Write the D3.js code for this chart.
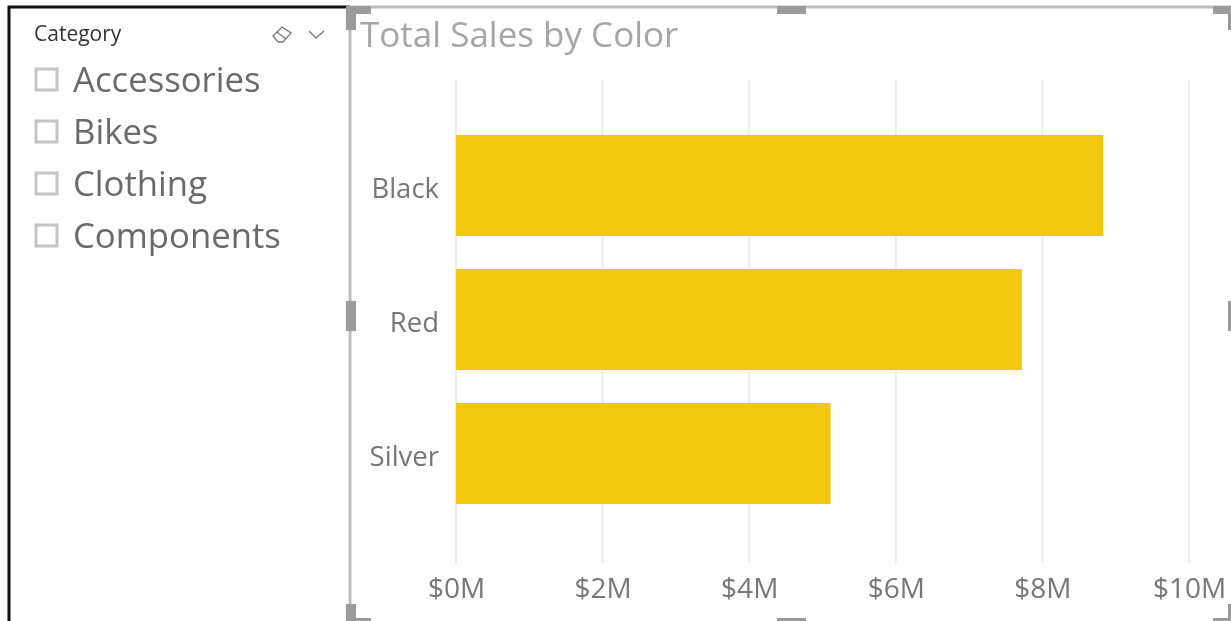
<!DOCTYPE html>
<html>
<head>
<meta charset="utf-8">
<script src="https://cdnjs.cloudflare.com/ajax/libs/d3/7.8.5/d3.min.js"></script>
<style>
  html, body { margin: 0; padding: 0; background: #fff; overflow: hidden; }
  svg { display: block; filter: blur(0.7px); }
  text { font-family: "Open Sans", "Noto Sans", sans-serif; }
  .x-axis path, .y-axis path, .x-axis line, .y-axis line { display: none; }
</style>
</head>
<body>
<div class="chart"></div>
<script>
// -----------------------------------------------------------------------
// Data
// -----------------------------------------------------------------------
const colors = ["Black", "Red", "Silver"];
const sales = [8.83, 7.72, 5.11];
const xTicks = [0, 2, 4, 6, 8, 10];
const slicerItems = ["Accessories", "Bikes", "Clothing", "Components"];
const slicerTitle = "Category";
const chartTitle = "Total Sales by Color";

// -----------------------------------------------------------------------
// Layout
// -----------------------------------------------------------------------
const WIDTH = 1231;
const HEIGHT = 621;
const BAR_COLOR = "#f2c80f";
const HANDLE_COLOR = "#9b9b9b";

const svg = d3.select(".chart").append("svg")
  .attr("width", WIDTH)
  .attr("height", HEIGHT);

const xScale = d3.scaleLinear().domain([0, 10]).range([456, 1189]);
const yScale = d3.scaleBand().domain(colors)
  .range([135, 504])
  .paddingInner(0.2463)
  .paddingOuter(0);

// -----------------------------------------------------------------------
// Slicer panel
// -----------------------------------------------------------------------
svg.append("path")
  .attr("d", `M9,${HEIGHT} V7 H350`)
  .attr("fill", "none")
  .attr("stroke", "#111")
  .attr("stroke-width", 3);

svg.append("text")
  .attr("x", 34)
  .attr("y", 41)
  .attr("font-size", 21)
  .attr("fill", "#333")
  .text(slicerTitle);

// eraser icon and chevron in the slicer header
const icon = svg.append("g").attr("fill", "none").attr("stroke", "#777").attr("stroke-width", 1.3);
icon.append("path").attr("d", "M273,36 L282,27 L291,33 L283,42 L278,42 Z M277,32 L286,39");
icon.append("path").attr("d", "M309,31 L316,38 L324,31");

const slicerRow = d3.scalePoint().domain(slicerItems).range([80, 236]);

const rows = svg.append("g").selectAll("g")
  .data(slicerItems)
  .join("g")
  .attr("transform", d => `translate(0, ${slicerRow(d)})`);

rows.append("rect")
  .attr("x", 36)
  .attr("y", -11)
  .attr("width", 21)
  .attr("height", 21)
  .attr("fill", "#fff")
  .attr("stroke", "#c4c4c4")
  .attr("stroke-width", 3);

rows.append("text")
  .attr("x", 73)
  .attr("y", 12)
  .attr("font-size", 34.7)
  .attr("fill", "#6a6a6a")
  .text(d => d);

// -----------------------------------------------------------------------
// Chart
// -----------------------------------------------------------------------
svg.append("text")
  .attr("x", 360)
  .attr("y", 47)
  .attr("font-size", 35)
  .attr("fill", "#a6a6a6")
  .text(chartTitle);

// gridlines
svg.append("g").selectAll("line")
  .data(xTicks)
  .join("line")
  .attr("x1", d => xScale(d))
  .attr("x2", d => xScale(d))
  .attr("y1", 80)
  .attr("y2", 563)
  .attr("stroke", "#ececec")
  .attr("stroke-width", 2);

// bars
svg.append("g").selectAll("rect")
  .data(sales)
  .join("rect")
  .attr("x", xScale(0))
  .attr("y", (d, i) => yScale(colors[i]))
  .attr("width", d => xScale(d) - xScale(0))
  .attr("height", yScale.bandwidth())
  .attr("fill", BAR_COLOR);

// axes
const xAxis = svg.append("g")
  .attr("class", "x-axis")
  .attr("transform", "translate(0, 570)")
  .call(d3.axisBottom(xScale).tickValues(xTicks).tickSize(0).tickPadding(0).tickFormat(d => `$${d}M`));
xAxis.selectAll("text")
  .attr("dy", "1em")
  .attr("font-size", 28)
  .attr("fill", "#777");

const yAxis = svg.append("g")
  .attr("class", "y-axis")
  .attr("transform", "translate(439, 3.5)")
  .call(d3.axisLeft(yScale).tickSize(0).tickPadding(0));
yAxis.selectAll("text")
  .attr("font-size", 27.5)
  .attr("fill", "#777");

// -----------------------------------------------------------------------
// Selection frame and handles
// -----------------------------------------------------------------------
svg.append("path")
  .attr("d", `M350,${HEIGHT} V7 H${WIDTH}`)
  .attr("fill", "none")
  .attr("stroke", "#bdbdbd")
  .attr("stroke-width", 3);

const handles = [
  "M346,6 H371 V14 H356 V30 H346 Z",
  "M777,6 H806 V14 H777 Z",
  "M1213,6 H1231 V30 H1228 V14 H1213 Z",
  "M346,301 H356 V331 H346 Z",
  "M1228,301 H1231 V331 H1228 Z",
  "M346,604 H356 V618 H371 V621 H346 Z",
  "M777,618 H806 V621 H777 Z",
  "M1228,604 H1231 V621 H1213 V618 H1228 Z"
];
svg.append("g").selectAll("path")
  .data(handles)
  .join("path")
  .attr("d", d => d)
  .attr("fill", HANDLE_COLOR);
</script>
</body>
</html>
